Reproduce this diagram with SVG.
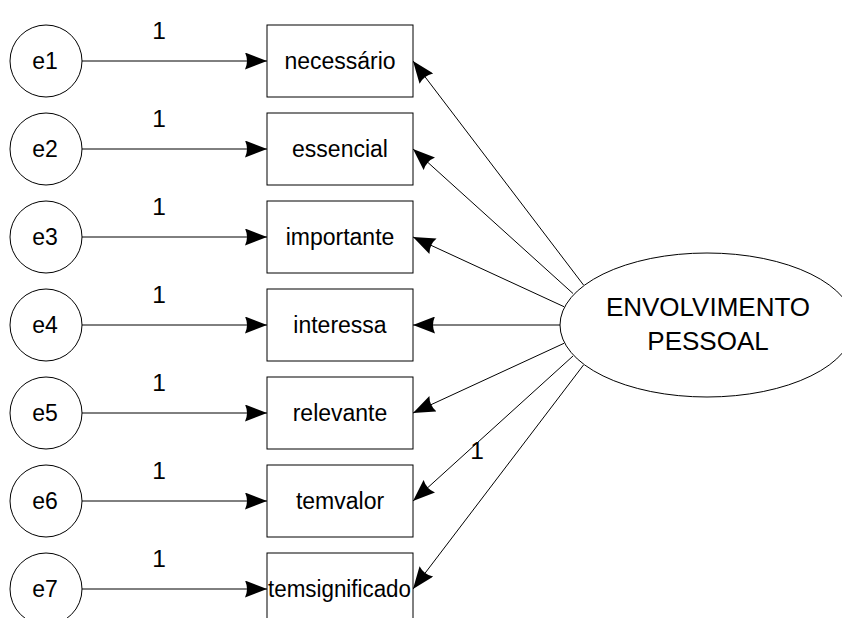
<svg xmlns="http://www.w3.org/2000/svg" width="842" height="618" viewBox="0 0 842 618">
  <style>
    text { font-family: "Liberation Sans", Arial, sans-serif; fill: #000; }
    .lbl { font-size: 23px; text-anchor: middle; }
    .lat { font-size: 26px; text-anchor: middle; }
    .w { font-size: 24.5px; text-anchor: middle; }
    .shape { fill: #fff; stroke: #000; stroke-width: 1; }
    .path { stroke: #000; stroke-width: 1; fill: none; marker-end: url(#arrow); }
  </style>
  <defs>
    <marker id="arrow" markerUnits="userSpaceOnUse" markerWidth="22" markerHeight="17" refX="22" refY="8.5" orient="auto">
      <path d="M0,0 L22,8.5 L0,17 Q4,8.5 0,0 Z" fill="#000"/>
    </marker>
  </defs>
  <rect width="842" height="618" fill="#fff"/>

  <!-- paths: error terms to indicators, factor to indicators -->
  <g id="connectors">
    <line class="path" x1="82" y1="61" x2="267" y2="61"/>
    <line class="path" x1="82" y1="149" x2="267" y2="149"/>
    <line class="path" x1="82" y1="237" x2="267" y2="237"/>
    <line class="path" x1="82" y1="325" x2="267" y2="325"/>
    <line class="path" x1="82" y1="413" x2="267" y2="413"/>
    <line class="path" x1="82" y1="501" x2="267" y2="501"/>
    <line class="path" x1="82" y1="589" x2="267" y2="589"/>

    <line class="path" x1="583.5" y1="285" x2="413" y2="61"/>
    <line class="path" x1="573" y1="293.5" x2="413" y2="149"/>
    <line class="path" x1="564" y1="306.7" x2="413" y2="237"/>
    <line class="path" x1="560" y1="325" x2="413" y2="325"/>
    <line class="path" x1="564" y1="343.3" x2="413" y2="413"/>
    <line class="path" x1="573" y1="356" x2="413" y2="501"/>
    <line class="path" x1="583.5" y1="365" x2="413" y2="589"/>

    <text class="w" x="159" y="38.5">1</text>
    <text class="w" x="159" y="126.5">1</text>
    <text class="w" x="159" y="214.5">1</text>
    <text class="w" x="159" y="302.5">1</text>
    <text class="w" x="159" y="390.5">1</text>
    <text class="w" x="159" y="478.5">1</text>
    <text class="w" x="159" y="566.5">1</text>
    <text class="w" x="477" y="458.5">1</text>
  </g>

  <!-- error terms -->
  <g id="e1"><circle class="shape" cx="46" cy="61" r="36"/><text class="lbl" x="45" y="69">e1</text></g>
  <g id="e2"><circle class="shape" cx="46" cy="149" r="36"/><text class="lbl" x="45" y="157">e2</text></g>
  <g id="e3"><circle class="shape" cx="46" cy="237" r="36"/><text class="lbl" x="45" y="245">e3</text></g>
  <g id="e4"><circle class="shape" cx="46" cy="325" r="36"/><text class="lbl" x="45" y="333">e4</text></g>
  <g id="e5"><circle class="shape" cx="46" cy="413" r="36"/><text class="lbl" x="45" y="421">e5</text></g>
  <g id="e6"><circle class="shape" cx="46" cy="501" r="36"/><text class="lbl" x="45" y="509">e6</text></g>
  <g id="e7"><circle class="shape" cx="46" cy="589" r="36"/><text class="lbl" x="45" y="597">e7</text></g>

  <!-- observed indicators -->
  <g id="necessario"><rect class="shape" x="267" y="25" width="146" height="72"/><text class="lbl" x="340" y="69">necessário</text></g>
  <g id="essencial"><rect class="shape" x="267" y="113" width="146" height="72"/><text class="lbl" x="340" y="157">essencial</text></g>
  <g id="importante"><rect class="shape" x="267" y="201" width="146" height="72"/><text class="lbl" x="340" y="245">importante</text></g>
  <g id="interessa"><rect class="shape" x="267" y="289" width="146" height="72"/><text class="lbl" x="340" y="333">interessa</text></g>
  <g id="relevante"><rect class="shape" x="267" y="377" width="146" height="72"/><text class="lbl" x="340" y="421">relevante</text></g>
  <g id="temvalor"><rect class="shape" x="267" y="465" width="146" height="72"/><text class="lbl" x="340" y="509">temvalor</text></g>
  <g id="temsignificado"><rect class="shape" x="267" y="553" width="146" height="72"/><text class="lbl" x="339.5" y="597" textLength="143" lengthAdjust="spacingAndGlyphs">temsignificado</text></g>

  <!-- latent factor -->
  <g id="envolvimento">
    <ellipse class="shape" cx="707" cy="325" rx="147" ry="72"/>
    <text class="lat" x="708" y="316">ENVOLVIMENTO</text>
    <text class="lat" x="708" y="349.5">PESSOAL</text>
  </g>
</svg>
